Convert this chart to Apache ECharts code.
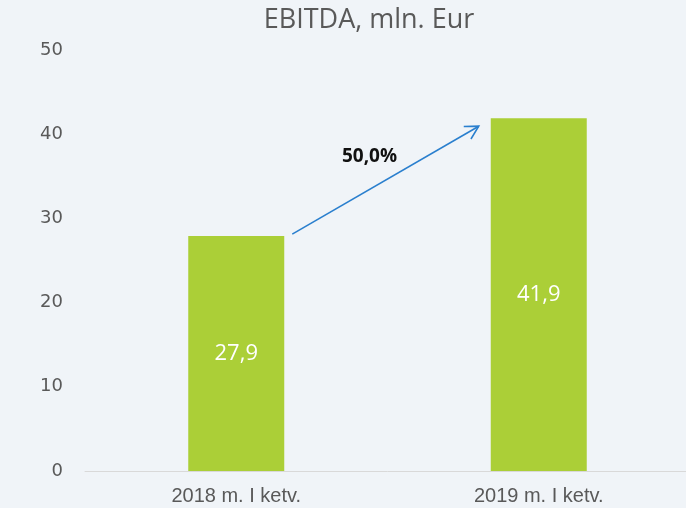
<!DOCTYPE html>
<html><head><meta charset="utf-8">
<script src="https://cdn.jsdelivr.net/npm/echarts@6/dist/echarts.min.js"></script>
<style>html,body{margin:0;padding:0;background:#f0f4f8;overflow:hidden;}#c{width:692px;height:508px;}</style>
</head><body><div id="c"></div>
<script>
const categories = ['2018 m. I ketv.', '2019 m. I ketv.'];
const values = [27.9, 41.9];
const yTicks = [0, 10, 20, 30, 40, 50];
const growthLabel = '50,0%';

const chart = echarts.init(document.getElementById('c'));
const fmt = v => String(v).replace('.', ',');
const option = {
  backgroundColor: '#f0f4f8',
  animation: false,
  title: { text: 'EBITDA, mln. Eur', left: 364, textAlign: 'center', top: 2,
    textStyle: { fontFamily: 'Open Sans', fontWeight: 'normal', fontSize: 27, color: '#595959' } },
  grid: { left: 85, top: 50, right: 2, bottom: 37, containLabel: false },
  xAxis: { type: 'category', data: categories,
    axisLine: { lineStyle: { color: '#d9d9d9' } }, axisTick: { show: false },
    axisLabel: { fontFamily: 'Liberation Sans', fontSize: 20, color: '#595959', margin: 15 } },
  yAxis: { type: 'value', min: yTicks[0], max: yTicks[yTicks.length-1], interval: 10,
    splitLine: { show: false }, axisLine: { show: false }, axisTick: { show: false },
    axisLabel: { fontFamily: 'DejaVu Sans', fontSize: 18, color: '#595959', margin: 22 } },
  series: [{ type: 'bar', data: values, barWidth: 96,
    itemStyle: { color: '#abcf37' },
    label: { show: true, position: 'inside', color: '#fff', fontFamily: 'Open Sans', fontSize: 22,
      formatter: p => fmt(p.value) } }]
};
chart.setOption(option);

const p0 = chart.convertToPixel({ seriesIndex: 0 }, [0, values[0]]);
const p1 = chart.convertToPixel({ seriesIndex: 0 }, [1, values[1]]);
const half = 48;
const x0 = p0[0] + half + 8, y0 = p0[1] - 2;
const x1 = p1[0] - half - 12, y1 = p1[1] + 8;
const ang = Math.atan2(y1 - y0, x1 - x0);
const hl = 15;
const h1 = [x1 - hl * Math.cos(ang - 0.5), y1 - hl * Math.sin(ang - 0.5)];
const h2 = [x1 - hl * Math.cos(ang + 0.5), y1 - hl * Math.sin(ang + 0.5)];
chart.setOption({ graphic: [
  { type: 'line', shape: { x1: x0, y1: y0, x2: x1, y2: y1 }, style: { stroke: '#2a7fce', lineWidth: 1.6 } },
  { type: 'polyline', shape: { points: [h1, [x1, y1], h2] }, style: { stroke: '#2a7fce', lineWidth: 1.6, fill: null } },
  { type: 'text', x: (x0 + x1) / 2 - 16, y: (y0 + y1) / 2 - 24, style: { text: growthLabel, fontFamily: 'Open Sans', fontWeight: 'bold', fontSize: 19, fill: '#111', textAlign: 'center', textVerticalAlign: 'middle' } }
] });
</script></body></html>
